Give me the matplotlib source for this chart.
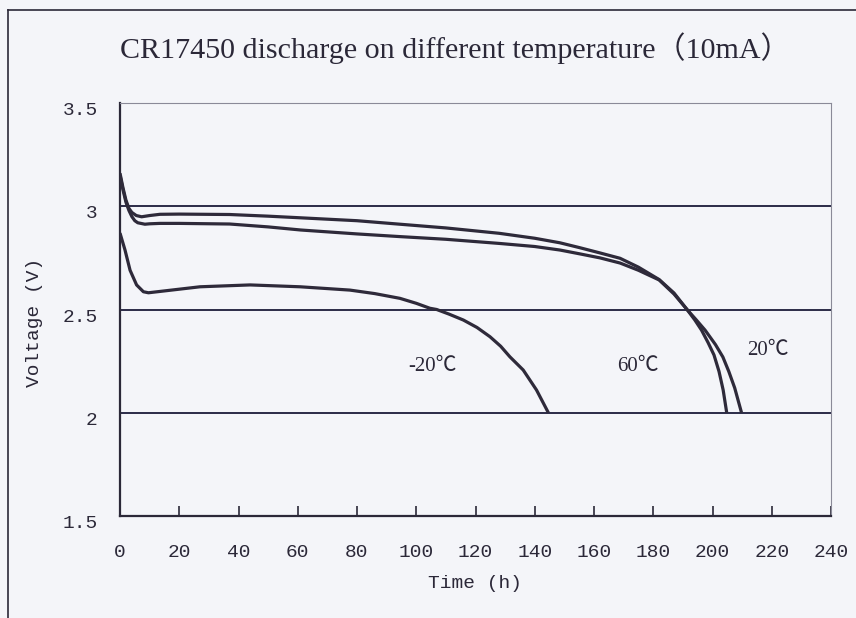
import matplotlib
matplotlib.use("Agg")
import matplotlib.pyplot as plt
import matplotlib.transforms as mtransforms
from matplotlib.lines import Line2D

# ---- data ----
t_20 = [0, 1, 2, 3, 4, 5.5, 7.3, 10, 13.5, 20, 37, 50, 61, 80, 94.5, 110, 128, 140, 148.5, 155, 162, 168.8, 175, 182, 187, 191.4, 194.5, 197.5, 201, 203.5, 205.5, 207.5, 209.8]
v_20 = [3.16, 3.09, 3.03, 2.99, 2.97, 2.955, 2.949, 2.955, 2.961, 2.962, 2.96, 2.952, 2.944, 2.93, 2.913, 2.895, 2.869, 2.845, 2.823, 2.80, 2.774, 2.748, 2.705, 2.645, 2.58, 2.5, 2.45, 2.4, 2.33, 2.27, 2.2, 2.12, 2.0]

t_60 = [0, 1, 2, 3, 4, 5, 6, 8.4, 10, 13.5, 20, 37, 50, 61, 80, 94.5, 110, 128, 140, 148.5, 155, 162, 168.8, 175, 182, 187, 191.4, 194, 196.3, 198.5, 200.5, 202.2, 203.6, 204.8]
v_60 = [3.15, 3.08, 3.02, 2.98, 2.95, 2.93, 2.92, 2.913, 2.915, 2.917, 2.917, 2.914, 2.90, 2.885, 2.866, 2.853, 2.84, 2.82, 2.805, 2.788, 2.77, 2.75, 2.725, 2.69, 2.643, 2.575, 2.5, 2.45, 2.4, 2.34, 2.28, 2.2, 2.11, 2.0]

t_m20 = [0, 1.69, 3.4, 5.6, 7.9, 9.6, 15, 27, 43.9, 60.8, 77.6, 86, 94.5, 100, 104.6, 106.9, 111, 115.9, 120.5, 124.9, 128.5, 131.6, 136.1, 140.6, 144.6]
v_m20 = [2.87, 2.788, 2.69, 2.619, 2.586, 2.581, 2.59, 2.61, 2.619, 2.61, 2.594, 2.577, 2.554, 2.53, 2.506, 2.5, 2.478, 2.449, 2.413, 2.368, 2.322, 2.271, 2.207, 2.11, 2.0]

x_ticks = [0, 20, 40, 60, 80, 100, 120, 140, 160, 180, 200, 220, 240]
y_ticks = [1.5, 2, 2.5, 3, 3.5]
y_tick_labels = ["1.5", "2", "2.5", "3", "3.5"]
grid_levels = [2.0, 2.5, 3.0]

labels = ["-20℃", "60℃", "20℃"]
label_pos = [(105.5, 2.225), (174.7, 2.225), (218.7, 2.30)]

title = "CR17450 discharge on different temperature（10mA）"

# ---- styling ----
bg = "#f4f5f9"
ink = "#2b2838"
line_c = "#2e2a3a"

fig = plt.figure(figsize=(8.56, 6.18), dpi=100, facecolor=bg)
ax = fig.add_axes([120/856, 102/618, 711/856, 413/618], facecolor=bg)

for t, v in [(t_20, v_20), (t_60, v_60), (t_m20, v_m20)]:
    ax.plot(t, v, color=line_c, lw=2.3, solid_capstyle="butt", solid_joinstyle="round", zorder=3)

for g in grid_levels:
    ax.axhline(g, color="#2b2b48", lw=1.4, zorder=2)

ax.set_xlim(0, 240)
ax.set_ylim(1.5, 3.5)

mono = ["Liberation Mono", "DejaVu Sans Mono"]
ax.set_xticks(x_ticks)
ax.set_xticklabels([str(x) for x in x_ticks], family=mono, fontsize=14, color=ink)
ax.set_yticks(y_ticks)
ax.set_yticklabels(y_tick_labels, family=mono, fontsize=14, color=ink)
ax.tick_params(axis="x", direction="in", length=7, width=1.2, color=ink, pad=20, top=False)
ax.tick_params(axis="y", length=0, pad=16)

offset = mtransforms.ScaledTranslation(0, -4/72, fig.dpi_scale_trans)
for lab in ax.get_yticklabels():
    lab.set_transform(lab.get_transform() + offset)

for s in ["left", "bottom"]:
    ax.spines[s].set_color(ink)
    ax.spines[s].set_linewidth(1.6)
for s in ["top", "right"]:
    ax.spines[s].set_color("#8a8a98")
    ax.spines[s].set_linewidth(0.8)

ax.set_xlabel("Time (h)", family=mono, fontsize=14, color=ink, labelpad=10)
ax.set_ylabel("Voltage (V)", family=mono, fontsize=14, color=ink, labelpad=8)
ax.yaxis.set_label_coords(-0.109, 0.47)

for txt, (x, y) in zip(labels, label_pos):
    ax.text(x, y, txt, ha="center", va="center", fontsize=15, color=ink,
            family=["Liberation Serif", "Noto Sans CJK SC"])

fig.text(455/856, 1 - 48/618, title, ha="center", va="center", fontsize=21.6, color=ink,
         family=["Liberation Serif", "Noto Sans CJK SC"])

# outer frame (left and top edges visible in the scan)
fig.add_artist(Line2D([8/856, 8/856], [0, 1 - 10/618], transform=fig.transFigure, color=ink, lw=1.2))
fig.add_artist(Line2D([8/856, 1], [1 - 10/618, 1 - 10/618], transform=fig.transFigure, color=ink, lw=1.2))

fig.savefig("out.png", dpi=100, facecolor=bg)
